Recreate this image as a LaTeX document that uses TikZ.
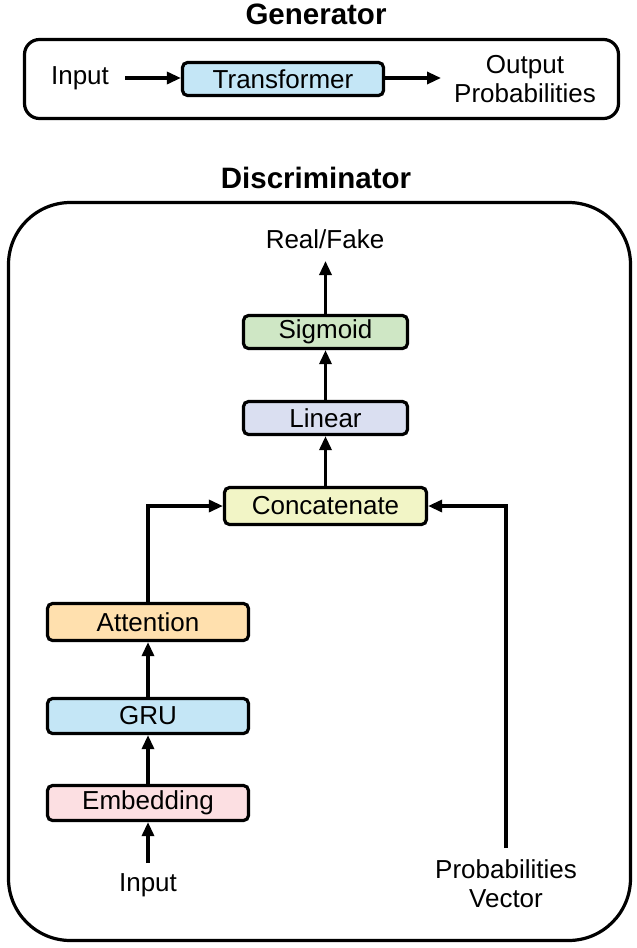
\documentclass[tikz,border=0pt]{standalone}
\usepackage{fontspec}
\setmainfont{Liberation Sans}
\usetikzlibrary{arrows.meta}
\definecolor{cblue}{HTML}{C4E6F6}
\definecolor{cgreen}{HTML}{CFE7C5}
\definecolor{clav}{HTML}{DADFF1}
\definecolor{cyel}{HTML}{F2F5C6}
\definecolor{corange}{HTML}{FFE0AE}
\definecolor{cpink}{HTML}{FCDFE2}
\begin{document}
\begin{tikzpicture}[x=1pt,y=-1pt,
  txt/.style={inner sep=0pt,font=\fontsize{26}{29}\selectfont,align=center},
  ttl/.style={inner sep=0pt,font=\fontsize{29.5}{33}\selectfont\bfseries},
  blk/.style={draw,line width=3.2pt,rounded corners=5pt,inner sep=0pt,
    font=\fontsize{26}{29}\selectfont},
  frame/.style={draw,line width=3.2pt},
  arr/.style={line width=3.2pt,-{Triangle[length=14pt,width=12pt]}},
  ln/.style={line width=3.2pt}]
\useasboundingbox (0,0) rectangle (637,948);
% Generator
\node[ttl] (gtitle) at (316,14) {Generator};
\node[frame,rounded corners=15pt,minimum width=594pt,minimum height=79pt] (gbox) at (321.5,79) {};
\node[txt] (gin) at (80,78) {Input};
\node[blk,fill=cblue,minimum width=201pt,minimum height=33pt] (trans) at (283,79) {Transformer};
\node[txt] (gout) at (525,79) {Output\\Probabilities};
\coordinate (ginE) at (125,78);
\coordinate (goutW) at (441,78);
\draw[arr] (ginE) -- (trans.west |- ginE);
\draw[arr] (trans.east |- ginE) -- (goutW);
% Discriminator
\node[ttl] (dtitle) at (316,178) {Discriminator};
\node[frame,rounded corners=62pt,minimum width=622pt,minimum height=738pt] (dbox) at (319.5,571.5) {};
\node[txt] (rf) at (325,239) {Real/Fake};
\node[blk,fill=cgreen,minimum width=164pt,minimum height=33pt] (sig) at (325.5,332) {Sigmoid};
\node[blk,fill=clav,minimum width=164pt,minimum height=33pt] (lin) at (325.5,418) {Linear};
\node[blk,fill=cyel,minimum width=202pt,minimum height=37pt] (cat) at (325.5,506) {Concatenate};
\node[blk,fill=corange,minimum width=201pt,minimum height=37pt] (att) at (148,622) {Attention};
\node[blk,fill=cblue,minimum width=201pt,minimum height=35pt] (gru) at (148,716) {GRU};
\node[blk,fill=cpink,minimum width=201pt,minimum height=35pt] (emb) at (148,803) {Embedding};
\node[txt] (din) at (148,885) {Input};
\node[txt] (pv) at (506,884) {Probabilities\\Vector};
\coordinate (rfS) at (325.5,261);
\coordinate (dinN) at (148,863);
\coordinate (pvN) at (506,848);
\draw[arr] (sig.north) -- (rfS);
\draw[arr] (lin.north) -- (sig.south);
\draw[arr] (cat.north) -- (lin.south);
\draw[arr] (att.north) |- (cat.west);
\draw[arr] (pvN) |- (cat.east);
\draw[arr] (gru.north) -- (att.south);
\draw[arr] (emb.north) -- (gru.south);
\draw[arr] (dinN) -- (emb.south);
\end{tikzpicture}
\end{document}
